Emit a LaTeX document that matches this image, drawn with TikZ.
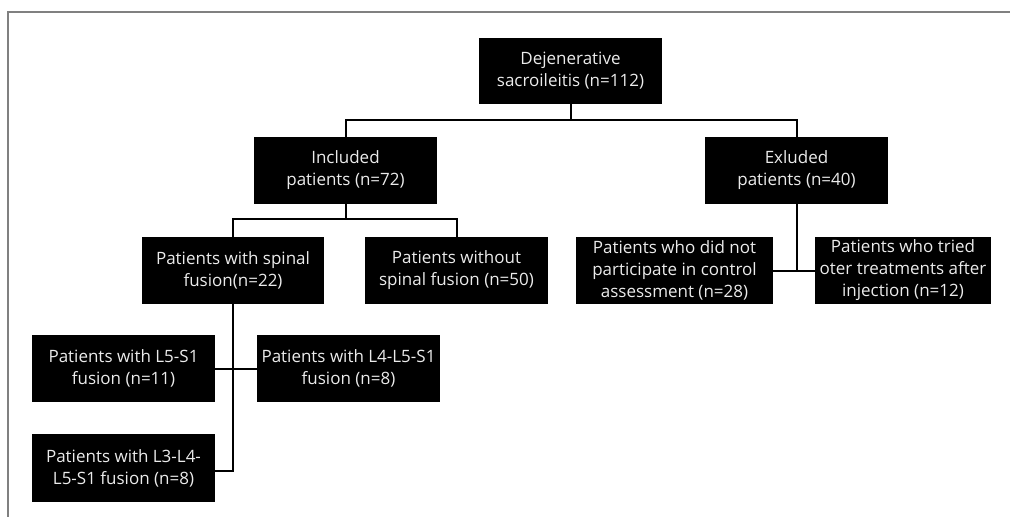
\documentclass[tikz,border=0pt]{standalone}
\usepackage{fontspec}
\setmainfont{Open Sans}
\begin{document}
\begin{tikzpicture}[x=1pt,y=-1pt,
  box/.style={fill=black,text=white!92!black,inner sep=0pt,align=center,
    font=\fontsize{17}{22}\selectfont},
  conn/.style={line width=2pt,black},
  frame/.style={line width=2pt,draw=black!50}]
\useasboundingbox (0,0) rectangle (1010,517);
\draw[frame] (8,517) -- (8,12) -- (1010,12);
% boxes
\node[box,minimum width=183pt,minimum height=66pt] (top) at (570.5,71) {Dejenerative\\sacroileitis (n=112)};
\node[box,minimum width=183pt,minimum height=67pt] (inc) at (345.5,170.5) {Included\\patients (n=72)};
\node[box,minimum width=183pt,minimum height=67pt] (exc) at (796.5,170.5) {Exluded\\patients (n=40)};
\node[box,minimum width=182pt,minimum height=67pt] (spinal) at (233,270.5) {Patients with spinal\\fusion(n=22)};
\node[box,minimum width=183pt,minimum height=67pt] (without) at (456.5,270.5) {Patients without\\spinal fusion (n=50)};
\node[box,minimum width=197pt,minimum height=67pt] (didnot) at (674.5,270.5) {Patients who did not\\participate in control\\assessment (n=28)};
\node[box,minimum width=176pt,minimum height=67pt] (tried) at (903,270.5) {Patients who tried\\oter treatments after\\injection (n=12)};
\node[box,minimum width=183pt,minimum height=67pt] (l5) at (123.5,368.5) {Patients with L5-S1\\fusion (n=11)};
\node[box,minimum width=183pt,minimum height=67pt] (l4) at (348.5,368.5) {Patients with L4-L5-S1\\fusion (n=8)};
\node[box,minimum width=183pt,minimum height=68pt] (l3) at (123.5,468) {Patients with L3-L4-\\L5-S1 fusion (n=8)};
% connectors
\draw[conn] (top.south) -- ++(0,16) coordinate (tb);
\draw[conn] (tb) -| (inc.north);
\draw[conn] (tb) -| (exc.north);
\draw[conn] (inc.south) -- ++(0,15) coordinate (ib);
\draw[conn] (ib) -| (spinal.north);
\draw[conn] (ib) -| (without.north);
\draw[conn] (exc.south) -- (exc.south |- didnot.east);
\draw[conn] (didnot.east) -- (tried.west);
\draw[conn] (spinal.south) |- ([yshift=-3pt]l3.east);
\draw[conn] (l5.east) -- (l4.west);
\end{tikzpicture}
\end{document}
